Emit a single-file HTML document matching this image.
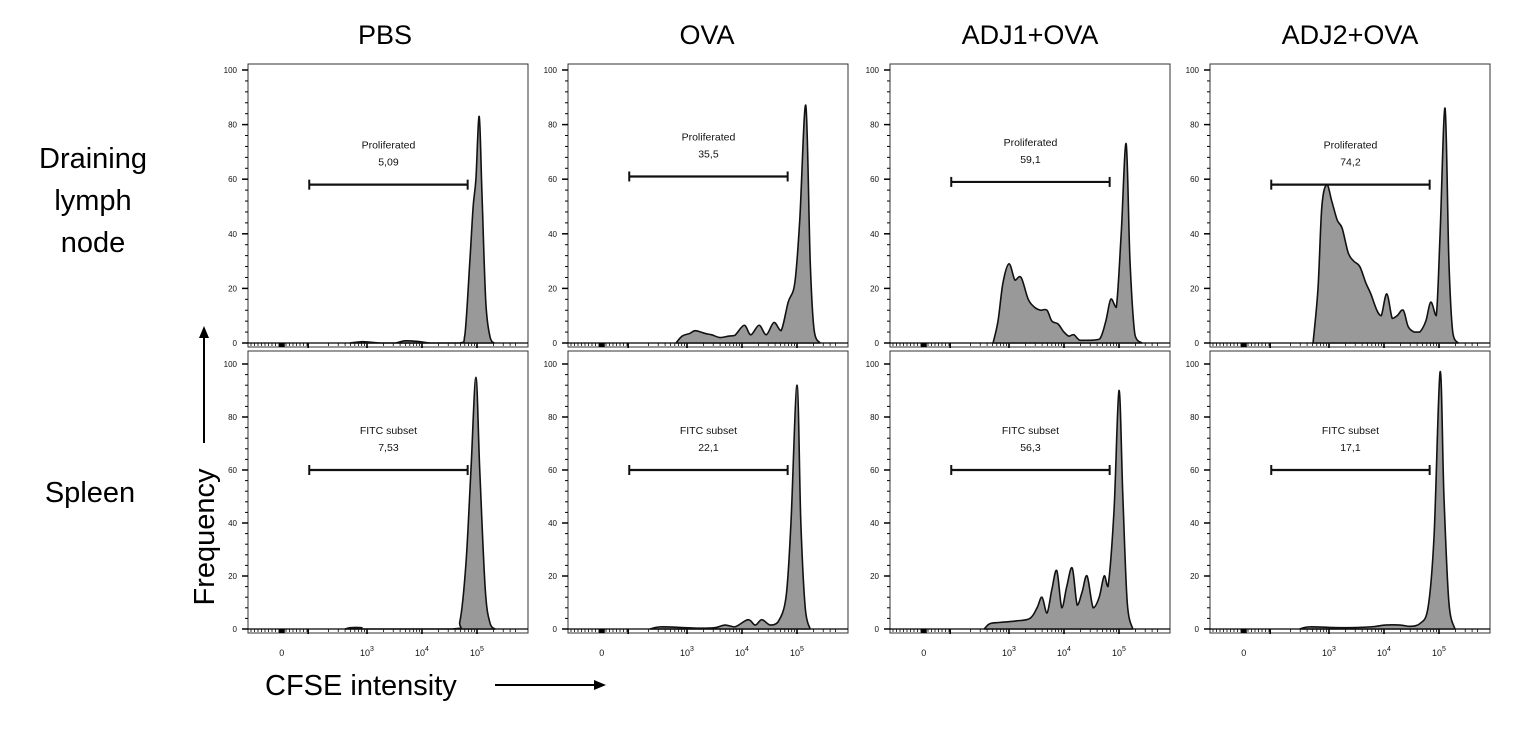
<!DOCTYPE html>
<html><head><meta charset="utf-8">
<style>
body{margin:0;background:#fff;}
svg{display:block;font-family:"Liberation Sans",sans-serif;}
</style></head>
<body>
<svg id="fig" width="1515" height="729" viewBox="0 0 1515 729">
<g font-size="27" text-anchor="middle" fill="#000">
<text x="385" y="44">PBS</text>
<text x="707" y="44">OVA</text>
<text x="1030" y="44">ADJ1+OVA</text>
<text x="1350" y="44">ADJ2+OVA</text>
</g>
<g font-size="29" text-anchor="middle">
<text x="93" y="168">Draining</text>
<text x="93" y="210">lymph</text>
<text x="93" y="252">node</text>
<text x="90" y="502">Spleen</text>
</g>
<text x="0" y="0" font-size="29" text-anchor="middle" transform="translate(214,537) rotate(-90)">Frequency</text>
<g>
<line x1="204" y1="443" x2="204" y2="336" stroke="#000" stroke-width="2"/>
<polygon points="204,326 199,338 209,338" fill="#000"/>
</g>
<text x="265" y="695" font-size="29">CFSE intensity</text>
<g>
<line x1="495" y1="685" x2="596" y2="685" stroke="#000" stroke-width="2"/>
<polygon points="606,685 594,680 594,690" fill="#000"/>
</g>
<g id="panels"></g>
</svg>
<script>
// panel data: decade position (log10 CFSE) and frequency
const rows = ["draining", "spleen"];
const columns = ["pbs", "ova", "adj1", "adj2"];
const gateNames = ["Proliferated", "FITC subset"];
const gateValues = [["5,09","35,5","59,1","74,2"],["7,53","22,1","56,3","17,1"]];
const gateLevels = [[58,61,59,58],[60,60,60,60]];
const gateStart = 1.95;
const gateEnd = 4.83;
const yTicks = [0,20,40,60,80,100];
const xTickLabels = ["0","10","10","10"];
const xTickExp = ["","3","4","5"];
const xTickDecades = [1.45,3,4,5];

const pbsTopD = [2.69,2.91,3.05,3.24,3.51,3.69,3.96,4.15,4.69,4.78,4.87,4.93,4.98,5.04,5.09,5.16,5.24,5.31];
const pbsTopF = [0,0.5,0.3,0,0,0.8,0.5,0,0,3,30,50,60,83,55,15,2,0];
const ovaTopD = [2.8,2.91,3.05,3.15,3.33,3.45,3.6,3.75,3.87,4.04,4.16,4.31,4.44,4.58,4.71,4.84,4.96,5.05,5.16,5.24,5.31,5.42];
const ovaTopF = [0,2.5,3.5,4.5,3.5,3,2,2.5,2.8,6.5,3,6.5,3,7.5,4.5,15,22,45,87,30,5,0];
const adj1TopD = [2.71,2.8,2.89,3,3.11,3.22,3.35,3.47,3.58,3.69,3.78,3.89,4,4.09,4.18,4.29,4.47,4.65,4.76,4.85,4.95,5.04,5.13,5.2,5.29,5.42];
const adj1TopF = [0,8,22,29,23,24,16,13,12,12,8,7,4,2.5,3,1,1,1.5,8,16,13,40,73,30,3,0];
const adj2TopD = [2.71,2.8,2.87,2.96,3.05,3.15,3.24,3.35,3.45,3.56,3.67,3.76,3.87,3.95,4.05,4.15,4.24,4.35,4.44,4.55,4.65,4.76,4.85,4.95,5.02,5.11,5.18,5.25,5.35];
const adj2TopF = [0,20,50,58,52,45,42,33,30,28,22,18,12,10,18,9,10,12,6,4,4,8,15,10,40,86,30,4,0];
const pbsBotD = [2.6,2.7,2.9,3.0,4.55,4.69,4.8,4.89,4.98,5.05,5.15,5.24,5.33];
const pbsBotF = [0,0.5,0.5,0,0,3,25,60,95,60,15,2,0];
const ovaBotD = [2.33,2.51,2.96,3.24,3.51,3.69,3.87,4.11,4.24,4.36,4.51,4.65,4.8,4.89,5,5.07,5.15,5.24];
const ovaBotF = [0,0.8,0.5,0.3,0.5,1.5,0.8,3.5,1.5,3.5,1.5,2.5,12,40,92,40,8,0];
const adj1BotD = [2.55,2.65,2.84,3.11,3.38,3.51,3.6,3.69,3.78,3.87,3.96,4.05,4.15,4.24,4.33,4.42,4.53,4.64,4.73,4.8,4.91,5,5.07,5.15,5.25];
const adj1BotF = [0,2,2.5,3,4,8,12,6,15,22,8,16,23,9,14,20,8,12,20,16,45,90,50,10,0];
const adj2BotD = [2.47,2.65,3.2,3.75,4.02,4.29,4.47,4.65,4.8,4.91,5.02,5.09,5.18,5.29];
const adj2BotF = [0,0.8,0.5,0.8,1.5,1.5,1,2,8,35,97,50,10,0];

const seriesD = [[pbsTopD,ovaTopD,adj1TopD,adj2TopD],[pbsBotD,ovaBotD,adj1BotD,adj2BotD]];
const seriesF = [[pbsTopF,ovaTopF,adj1TopF,adj2TopF],[pbsBotF,ovaBotF,adj1BotF,adj2BotF]];

const NS = "http://www.w3.org/2000/svg";
const panelX = [248,568,890,1210];
const panelW = 280;
const rowY0 = [343,629];
const rowY100 = [70,364];
const rowTop = [64,351];
function xScale(c,d){return panelX[c]+119+(d-3)*55;}
function yScale(r,f){return rowY0[r]+(rowY100[r]-rowY0[r])*f/100;}
function mk(tag,attrs,parent){const e=document.createElementNS(NS,tag);for(const k in attrs)e.setAttribute(k,attrs[k]);parent.appendChild(e);return e;}
function smooth(pts){
  let d="M"+pts[0][0]+","+pts[0][1];
  for(let i=0;i<pts.length-1;i++){
    const p0=pts[Math.max(0,i-1)],p1=pts[i],p2=pts[i+1],p3=pts[Math.min(pts.length-1,i+2)];
    const t=6;
    let c1y=p1[1]+(p2[1]-p0[1])/t, c2y=p2[1]-(p3[1]-p1[1])/t;
    const yb=Math.max(p1[1],p2[1]);
    c1y=Math.min(c1y,yb);c2y=Math.min(c2y,yb);
    d+=" C"+(p1[0]+(p2[0]-p0[0])/t)+","+c1y+" "+(p2[0]-(p3[0]-p1[0])/t)+","+c2y+" "+p2[0]+","+p2[1];
  }
  return d;
}
const root=document.getElementById("panels");
for(let r=0;r<2;r++){
  for(let c=0;c<4;c++){
    const g=mk("g",{},root);
    
    
    const x0=panelX[c], y0=rowY0[r], top=rowTop[r];
    const fr=mk("rect",{x:x0,y:top,width:panelW,height:y0-top+4,fill:"none",stroke:"#333","stroke-width":1},g);
    
    
    const ya=mk("g",{},g);
    
    
    for(let v=0;v<=100;v+=4){
      const yy=yScale(r,v);
      const major=v%20===0;
      mk("line",{x1:x0-(major?6:3),x2:x0,y1:yy,y2:yy,stroke:"#000","stroke-width":major?1.5:1},ya);
    }
    yTicks.forEach(v=>{
      const t=mk("text",{x:x0-11,y:yScale(r,v)+3,"font-size":8,"text-anchor":"end",fill:"#111"},ya);
      t.textContent=v;
    });
    const xa=mk("g",{},g);
    
    
    mk("line",{x1:x0,x2:x0+panelW,y1:y0,y2:y0,stroke:"#000","stroke-width":1.2},xa);
    for(let px=x0+3;px<xScale(c,1.93);px+=3.5){
      mk("line",{x1:px,x2:px,y1:y0,y2:y0+3,stroke:"#000","stroke-width":0.8},xa);
    }
    mk("rect",{x:xScale(c,1.45)-3,y:y0,width:6,height:4,fill:"#000"},xa);
    [1.93,3,4,5].forEach(dd=>{const px=xScale(c,dd);mk("line",{x1:px,x2:px,y1:y0,y2:y0+5,stroke:"#000","stroke-width":1.6},xa);});
    for(let dec=2;dec<=5;dec++){for(let m=2;m<=9;m++){
      const dd=dec+Math.log10(m); if(dd<2.2||dd>5.7)continue;
      const px=xScale(c,dd); mk("line",{x1:px,x2:px,y1:y0,y2:y0+3,stroke:"#000","stroke-width":0.8},xa);
    }}
    if(r===1){
      xTickDecades.forEach((dd,i)=>{
        const t=mk("text",{x:xScale(c,dd),y:y0+27,"font-size":9,"text-anchor":"middle",fill:"#111"},xa);
        t.textContent=xTickLabels[i];
        if(xTickExp[i]){const s=mk("tspan",{dy:-5,"font-size":7},t);s.textContent=xTickExp[i];}
      });
    }
    const D=seriesD[r][c],F=seriesF[r][c];
    const pts=D.map((d,i)=>[xScale(c,d),yScale(r,F[i])]);
    const path=mk("path",{d:smooth(pts)+" Z",fill:"#999",stroke:"#111","stroke-width":1.6,"stroke-linejoin":"round"},g);
    
    
    const gg=mk("g",{},g);
    
    
    const gy=yScale(r,gateLevels[r][c]), gx1=xScale(c,gateStart), gx2=xScale(c,gateEnd);
    mk("line",{x1:gx1,x2:gx2,y1:gy,y2:gy,stroke:"#111","stroke-width":2.2},gg);
    mk("line",{x1:gx1,x2:gx1,y1:gy-5,y2:gy+5,stroke:"#111","stroke-width":2},gg);
    mk("line",{x1:gx2,x2:gx2,y1:gy-5,y2:gy+5,stroke:"#111","stroke-width":2},gg);
    const cx=(gx1+gx2)/2;
    const t1=mk("text",{x:cx,y:gy-36,"font-size":10.5,"text-anchor":"middle",fill:"#111"},gg);
    t1.textContent=gateNames[r];
    
    
    const t2=mk("text",{x:cx,y:gy-19,"font-size":10.5,"text-anchor":"middle",fill:"#111"},gg);
    t2.textContent=gateValues[r][c];
    
    
  }
}
</script>
</body></html>
